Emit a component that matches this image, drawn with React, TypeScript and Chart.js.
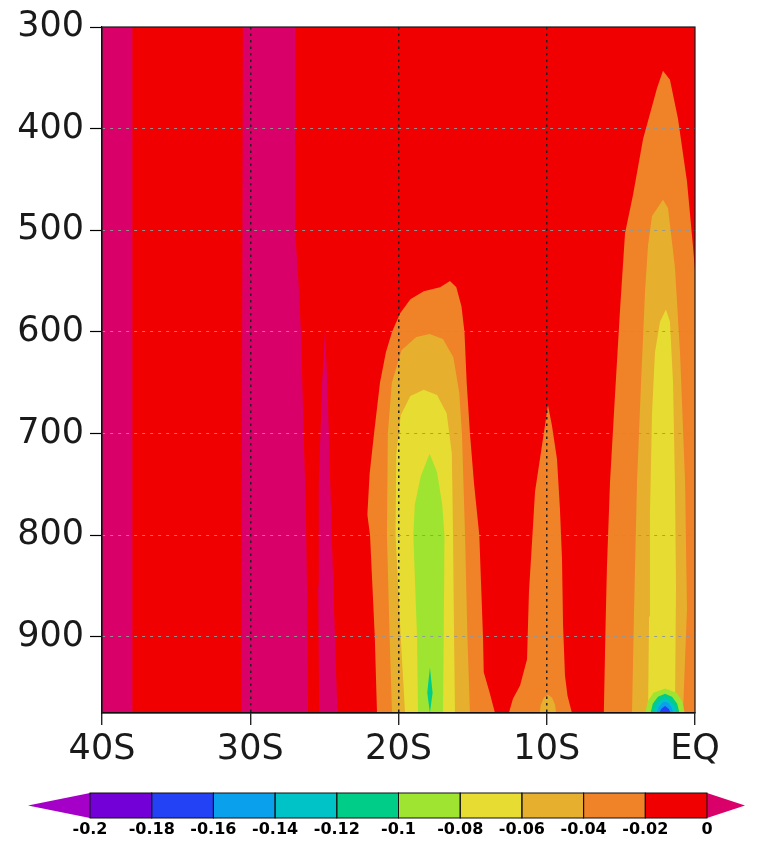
import React, { useEffect, useRef } from 'react';
import { Chart, registerables } from 'chart.js';

Chart.register(...registerables);

type Pt = [number, number];

// Axis ticks
const latTicks = [-40, -30, -20, -10, 0];
const latLabels = ['40S', '30S', '20S', '10S', 'EQ'];
const presTicks = [300, 400, 500, 600, 700, 800, 900];
const presLabels = ['300', '400', '500', '600', '700', '800', '900'];
const latRange = [-40, 0];
const presRange = [300, 975];

// Colour scale (shading levels)
const cbLevels = ['-0.2', '-0.18', '-0.16', '-0.14', '-0.12', '-0.1', '-0.08', '-0.06', '-0.04', '-0.02', '0'];
const PURPLE = 'rgb(165,0,200)';
const VIOLET = 'rgb(115,0,215)';
const BLUE = 'rgb(35,65,245)';
const SKY = 'rgb(10,160,235)';
const CYAN = 'rgb(0,195,200)';
const AQUA = 'rgb(0,205,135)';
const YGREEN = 'rgb(160,228,50)';
const YELLOW = 'rgb(230,220,50)';
const GOLD = 'rgb(230,175,45)';
const ORANGE = 'rgb(240,130,40)';
const RED = 'rgb(240,0,0)';
const MAGENTA = 'rgb(218,0,105)';
const cbColors = [PURPLE, VIOLET, BLUE, SKY, CYAN, AQUA, YGREEN, YELLOW, GOLD, ORANGE, RED, MAGENTA];

// Contour regions: [latitude, pressure hPa]
const fieldBackground: Pt[] = [[-40, 300], [0, 300], [0, 975], [-40, 975]];
const magentaWest: Pt[] = [[-40, 300], [-37.95, 300], [-37.95, 975], [-40, 975]];
const magentaStrip: Pt[] = [[-30.5, 300], [-26.98, 300], [-26.98, 500], [-26.75, 550], [-26.58, 600], [-26.4, 700], [-26.24, 780], [-26.15, 880], [-26.1, 975], [-30.6, 975]];
const magentaSpike: Pt[] = [[-24.96, 598], [-24.8, 650], [-24.6, 750], [-24.4, 850], [-24.12, 975], [-25.35, 975], [-25.42, 850], [-25.38, 750], [-25.15, 650]];

const orange20S: Pt[] = [[-21.45, 975], [-21.6, 900], [-21.92, 800], [-22.1, 780], [-21.95, 740], [-21.65, 700], [-21.25, 650], [-20.85, 620], [-20.44, 600], [-19.9, 582], [-19.2, 568], [-18.3, 560], [-17.2, 556], [-16.53, 550], [-16.1, 556], [-15.75, 575], [-15.55, 600], [-15.4, 650], [-15.18, 700], [-14.9, 750], [-14.55, 800], [-14.3, 900], [-14.25, 935], [-13.85, 955], [-13.49, 975]];
const gold20S: Pt[] = [[-20.44, 975], [-20.6, 900], [-20.78, 800], [-20.72, 700], [-20.45, 650], [-19.8, 618], [-18.8, 605], [-17.9, 602], [-17.0, 607], [-16.3, 625], [-15.9, 660], [-15.72, 700], [-15.51, 800], [-15.35, 900], [-15.18, 975]];
const yellow20S: Pt[] = [[-19.56, 975], [-19.85, 900], [-20.2, 800], [-20.15, 720], [-19.85, 682], [-19.2, 663], [-18.3, 657], [-17.4, 662], [-16.75, 680], [-16.4, 720], [-16.32, 800], [-16.25, 900], [-16.19, 975]];
const ygreen20S: Pt[] = [[-18.68, 975], [-18.75, 900], [-19.0, 800], [-18.9, 770], [-18.5, 742], [-17.9, 720], [-17.4, 738], [-17.05, 770], [-16.9, 800], [-16.95, 900], [-17.0, 975]];
const aqua20S: Pt[] = [[-17.88, 930], [-17.7, 955], [-17.88, 975], [-18.06, 955]];

const orange10S: Pt[] = [[-12.55, 975], [-12.48, 971], [-12.28, 961], [-11.8, 948], [-11.33, 922], [-11.2, 856], [-10.99, 806], [-10.79, 757], [-10.46, 725], [-10.12, 692], [-9.92, 672], [-9.65, 692], [-9.31, 725], [-9.11, 774], [-8.97, 824], [-8.9, 889], [-8.77, 938], [-8.6, 958], [-8.3, 975]];
const gold10S: Pt[] = [[-10.47, 975], [-10.4, 967], [-10.2, 960], [-9.92, 957], [-9.64, 960], [-9.44, 967], [-9.37, 975]];

const orangeEQ: Pt[] = [[-6.15, 975], [-6.05, 900], [-5.94, 831], [-5.73, 747], [-5.4, 663], [-5.06, 579], [-4.72, 503], [-4.18, 465], [-3.5, 410], [-2.56, 360], [-2.16, 343], [-1.69, 352], [-1.15, 390], [-0.54, 452], [-0.14, 515], [0, 540], [0, 975]];
const goldEQ: Pt[] = [[-4.25, 975], [-4.11, 873], [-3.91, 747], [-3.64, 650], [-3.37, 560], [-3.17, 515], [-2.9, 486], [-2.16, 470], [-1.82, 478], [-1.35, 537], [-1.01, 620], [-0.67, 747], [-0.54, 873], [-0.81, 975]];
const yellowEQ: Pt[] = [[-3.17, 975], [-3.1, 880], [-3.04, 780], [-2.9, 680], [-2.7, 620], [-2.36, 590], [-1.96, 578], [-1.69, 590], [-1.48, 650], [-1.35, 750], [-1.28, 850], [-1.35, 975]];
const ygreenEQ: Pt[] = [[-3.35, 975], [-3.2, 964], [-2.8, 955], [-2.02, 951], [-1.25, 955], [-0.85, 964], [-0.7, 975]];
const aquaEQ: Pt[] = [[-3.0, 975], [-2.85, 966], [-2.5, 959], [-2.02, 956], [-1.55, 959], [-1.2, 966], [-1.05, 975]];
const cyanEQ: Pt[] = [[-2.78, 975], [-2.62, 967], [-2.3, 962], [-2.02, 960], [-1.74, 962], [-1.42, 967], [-1.26, 975]];
const skyEQ: Pt[] = [[-2.58, 975], [-2.45, 969], [-2.22, 965], [-2.02, 964], [-1.82, 965], [-1.6, 969], [-1.46, 975]];
const blueEQ: Pt[] = [[-2.4, 975], [-2.28, 971], [-2.02, 968], [-1.76, 971], [-1.64, 975]];

// bottom -> top
const layers: { name: string; color: string; pts: Pt[] }[] = [
  { name: 'background', color: RED, pts: fieldBackground },
  { name: 'magentaWest', color: MAGENTA, pts: magentaWest },
  { name: 'magentaStrip', color: MAGENTA, pts: magentaStrip },
  { name: 'magentaSpike', color: MAGENTA, pts: magentaSpike },
  { name: 'orange20S', color: ORANGE, pts: orange20S },
  { name: 'gold20S', color: GOLD, pts: gold20S },
  { name: 'yellow20S', color: YELLOW, pts: yellow20S },
  { name: 'ygreen20S', color: YGREEN, pts: ygreen20S },
  { name: 'aqua20S', color: AQUA, pts: aqua20S },
  { name: 'orange10S', color: ORANGE, pts: orange10S },
  { name: 'gold10S', color: GOLD, pts: gold10S },
  { name: 'orangeEQ', color: ORANGE, pts: orangeEQ },
  { name: 'goldEQ', color: GOLD, pts: goldEQ },
  { name: 'yellowEQ', color: YELLOW, pts: yellowEQ },
  { name: 'ygreenEQ', color: YGREEN, pts: ygreenEQ },
  { name: 'aquaEQ', color: AQUA, pts: aquaEQ },
  { name: 'cyanEQ', color: CYAN, pts: cyanEQ },
  { name: 'skyEQ', color: SKY, pts: skyEQ },
  { name: 'blueEQ', color: BLUE, pts: blueEQ },
];

const framePlugin = {
  id: 'frame',
  afterDraw(chart: any) {
    const { ctx, chartArea: a } = chart;
    ctx.save();
    ctx.strokeStyle = '#1a1a1a';
    ctx.lineWidth = 1.2;
    ctx.strokeRect(a.left, a.top, a.right - a.left, a.bottom - a.top);
    ctx.restore();
  },
};

const colorbarPlugin = {
  id: 'colorbar',
  afterDraw(chart: any) {
    const ctx = chart.ctx as CanvasRenderingContext2D;
    const x0 = 90, x1 = 707, y0 = 793, y1 = 818, tipL = 28, tipR = 745;
    const n = cbLevels.length - 1;
    const w = (x1 - x0) / n;
    const ym = (y0 + y1) / 2;
    ctx.save();
    ctx.fillStyle = cbColors[0];
    ctx.beginPath();
    ctx.moveTo(x0, y0);
    ctx.lineTo(tipL, ym);
    ctx.lineTo(x0, y1);
    ctx.closePath();
    ctx.fill();
    ctx.fillStyle = cbColors[n + 1];
    ctx.beginPath();
    ctx.moveTo(x1, y0);
    ctx.lineTo(tipR, ym);
    ctx.lineTo(x1, y1);
    ctx.closePath();
    ctx.fill();
    ctx.strokeStyle = '#111';
    ctx.lineWidth = 1;
    for (let i = 0; i < n; i++) {
      ctx.fillStyle = cbColors[i + 1];
      ctx.fillRect(x0 + i * w, y0, w, y1 - y0);
    }
    for (let i = 0; i < n; i++) {
      ctx.strokeRect(x0 + i * w, y0, w, y1 - y0);
    }
    ctx.fillStyle = '#000';
    ctx.font = 'bold 16px "DejaVu Sans", sans-serif';
    ctx.textAlign = 'center';
    ctx.textBaseline = 'middle';
    cbLevels.forEach((t, i) => {
      ctx.fillText(t, x0 + i * w, 830);
    });
    ctx.restore();
  },
};

export default function App() {
  const ref = useRef<HTMLCanvasElement | null>(null);

  useEffect(() => {
    if (!ref.current) return;
    const datasets = layers.map((l, i) => ({
      label: l.name,
      data: l.pts.map(([x, y]) => ({ x, y })),
      backgroundColor: l.color,
      borderColor: 'rgba(0,0,0,0)',
      borderWidth: 0,
      pointRadius: 0,
      pointHoverRadius: 0,
      fill: 'shape',
      tension: 0,
      order: layers.length - i,
    }));

    const tickFont = { family: '"DejaVu Sans", sans-serif', size: 35, weight: 'normal' as const };

    const chart = new Chart(ref.current, {
      type: 'line',
      data: { datasets: datasets as any },
      options: {
        responsive: false,
        animation: false,
        devicePixelRatio: 1,
        events: [],
        layout: { padding: { left: 0, top: 25, right: 67, bottom: 74 } },
        plugins: {
          legend: { display: false },
          tooltip: { enabled: false },
        },
        scales: {
          x: {
            type: 'linear',
            min: latRange[0],
            max: latRange[1],
            afterBuildTicks: (s: any) => {
              s.ticks = latTicks.map((v) => ({ value: v }));
            },
            afterFit: (s: any) => {
              s.height = 55;
            },
            ticks: {
              autoSkip: false,
              maxRotation: 0,
              padding: 4,
              color: '#1a1a1a',
              font: tickFont,
              callback: (v: any) => {
                const i = latTicks.indexOf(Number(v));
                return i >= 0 ? latLabels[i] : '';
              },
            },
            grid: {
              z: 1,
              lineWidth: 1.5,
              color: (c: any) =>
                c.tick && (c.tick.value === latRange[0] || c.tick.value === latRange[1]) ? 'rgba(0,0,0,0)' : '#222',
              tickColor: '#000',
              tickLength: 12,
              tickWidth: 1.2,
            },
            border: { display: true, color: '#000', width: 1.2, dash: [2.5, 4], z: 2 },
          },
          y: {
            type: 'linear',
            reverse: true,
            min: presRange[0],
            max: presRange[1],
            afterBuildTicks: (s: any) => {
              s.ticks = presTicks.map((v) => ({ value: v }));
            },
            afterFit: (s: any) => {
              s.width = 102;
            },
            ticks: {
              autoSkip: false,
              padding: 6,
              color: '#1a1a1a',
              font: tickFont,
              callback: (v: any) => {
                const i = presTicks.indexOf(Number(v));
                return i >= 0 ? presLabels[i] : '';
              },
            },
            grid: {
              z: 1,
              lineWidth: 1,
              color: (c: any) => (c.tick && c.tick.value === presRange[0] ? 'rgba(0,0,0,0)' : 'rgba(150,150,150,0.95)'),
              tickColor: '#000',
              tickLength: 12,
              tickWidth: 1.2,
            },
            border: { display: true, color: '#000', width: 1.2, dash: [3, 5], z: 2 },
          },
        },
      } as any,
      plugins: [framePlugin, colorbarPlugin],
    });
    return () => chart.destroy();
  }, []);

  return (
    <div style={{ position: 'absolute', left: 0, top: 0, width: 762, height: 842, background: '#fff' }}>
      <canvas ref={ref} width={762} height={842} style={{ display: 'block', width: 762, height: 842 }} />
    </div>
  );
}
